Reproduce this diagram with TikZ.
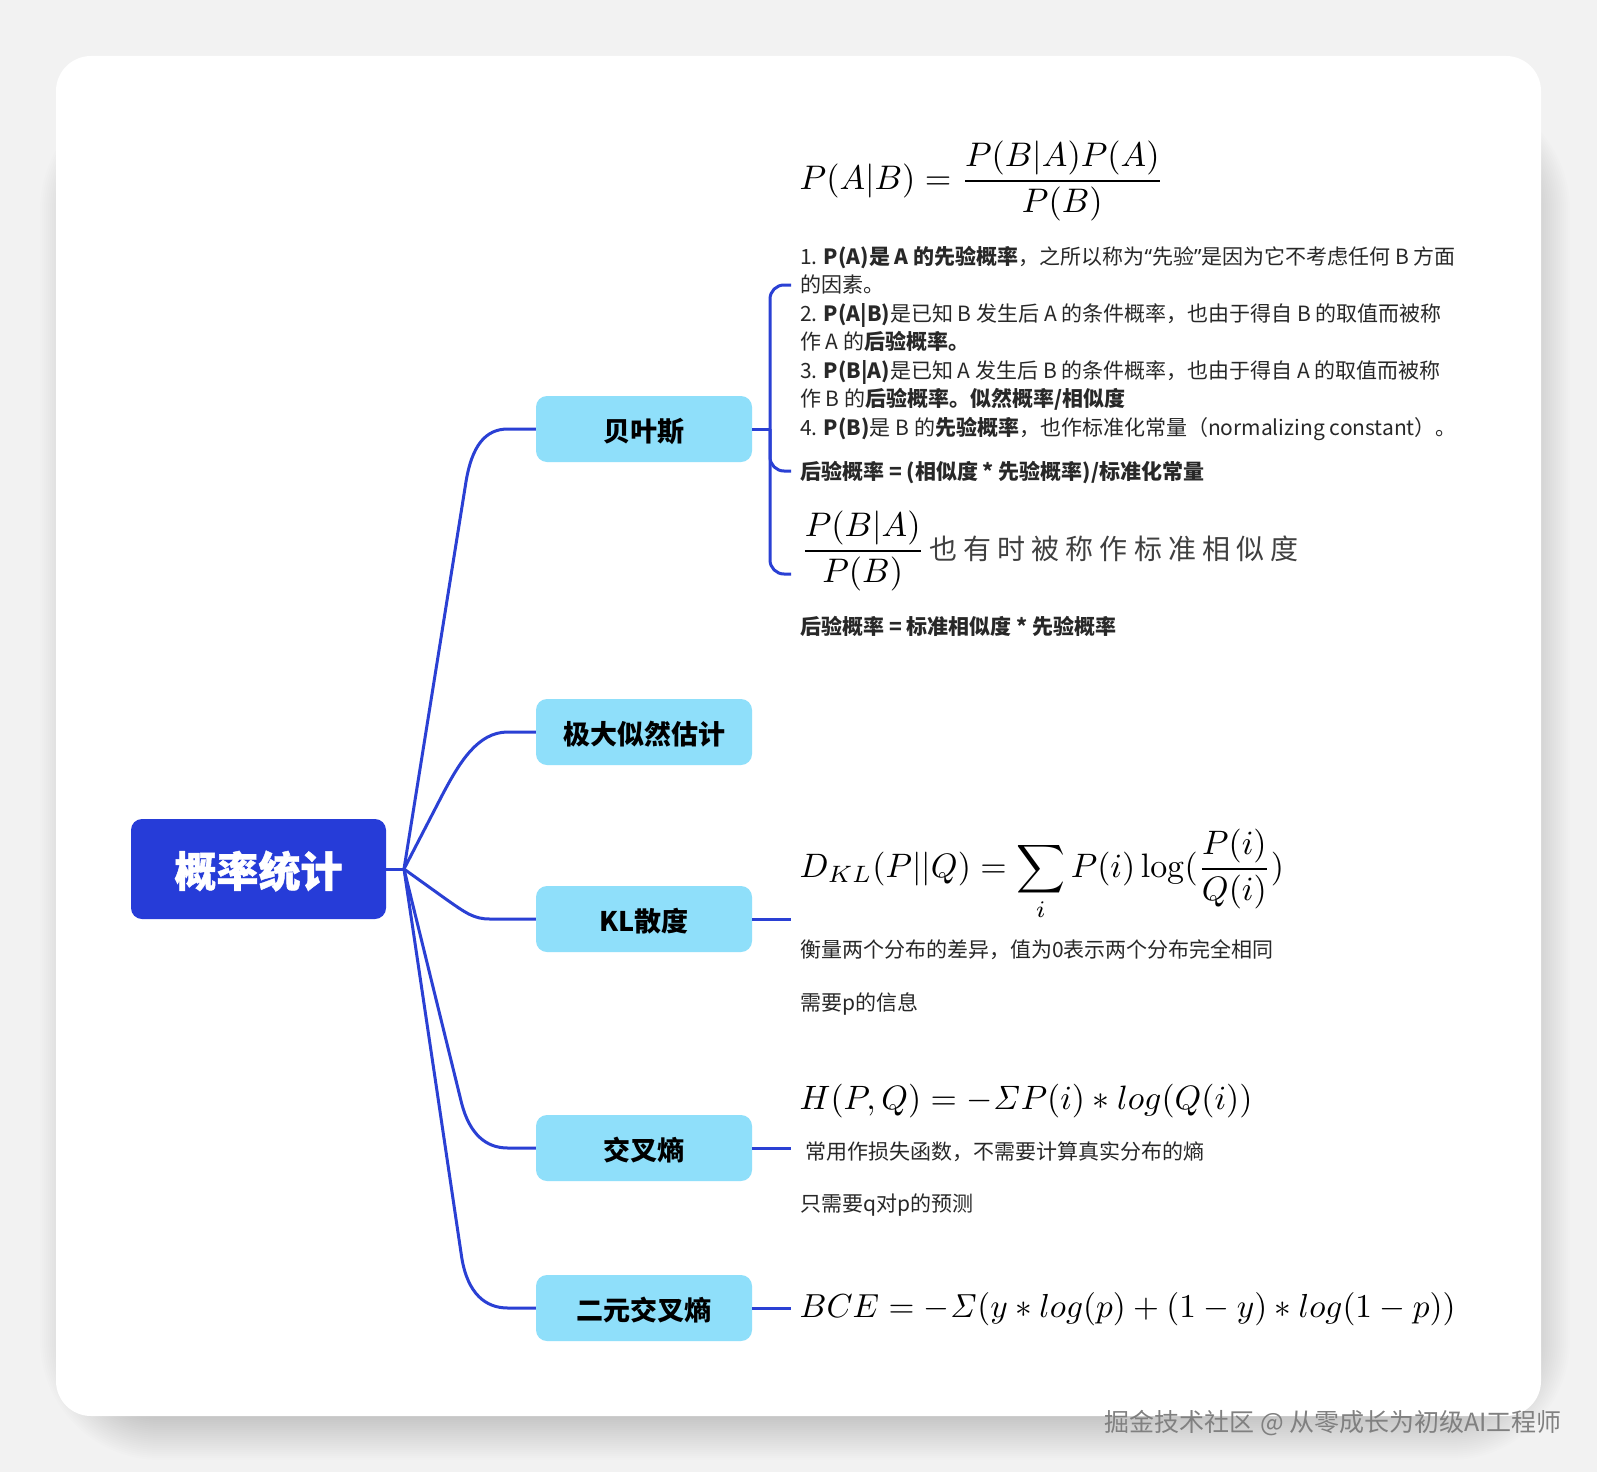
\documentclass[tikz,border=0pt]{standalone}
\usepackage[no-math]{fontspec}
\usepackage{amsmath}
\usepackage{tikz}
\usetikzlibrary{calc}
\setmainfont{Noto Sans CJK SC}
\newfontfamily\quotefont{Noto Sans}
\definecolor{pagecolor}{RGB}{242,242,242}
\definecolor{rootcolor}{RGB}{38,60,216}
\definecolor{subcolor}{RGB}{143,223,250}
\definecolor{linecolor}{RGB}{42,64,212}
\definecolor{notecolor}{RGB}{40,40,40}

\begin{document}
\begin{tikzpicture}[
    x=1pt,
    y=-1pt,
    root/.style={fill=rootcolor, text=white, minimum width=255pt, minimum height=100pt, rounded corners=11pt, text height=41pt, text depth=5pt, font=\fontsize{42}{50}\selectfont\bfseries\addfontfeature{FakeBold=1}},
    sub/.style={fill=subcolor, minimum width=216pt, minimum height=66pt, rounded corners=11pt, text height=29pt, text depth=4.4pt, font=\fontsize{27}{32}\selectfont\bfseries},
    branch/.style={draw=linecolor, line width=3pt},
    formula/.style={anchor=west, inner sep=0pt, scale=#1},
    note/.style={anchor=west, inner sep=0pt, align=left, text=notecolor, font=\fontsize{21}{28.5}\selectfont}
]
    % Page and card
    \useasboundingbox (0,0) rectangle (1597,1472);
    \fill[pagecolor] (0,0) rectangle (1597,1472);
    \foreach \i in {1,...,30}
        \fill[black, opacity=0.006, rounded corners={(60+2*\i)*1pt}] (100-2*\i,150-2*\i) rectangle (1510+2*\i,1400+2*\i);
    \fill[white, rounded corners=35pt] (56,56) rectangle (1541,1416);

    % Root and subjects
    \node[root] (prob) at (258.5,869) {概率统计};
    \node[sub] (bayes) at (644,429) {贝叶斯};
    \node[sub] (mle) at (644,732) {极大似然估计};
    \node[sub] (kl) at (644,919) {KL散度};
    \node[sub] (ce) at (644,1148) {交叉熵};
    \node[sub] (bce) at (644,1308) {二元交叉熵};

    % Formulas
    \node[formula=3.41] (fbayes) at (799,181) {$\displaystyle P(A|B)=\frac{P(B|A)P(A)}{P(B)}$};
    \node[formula=3.41] (flike) at (800,551) {$\displaystyle \frac{P(B|A)}{P(B)}$};
    \node[formula=3.39] (fkl) at (799,875) {$\displaystyle D_{KL}(P||Q)=\sum_{i}P(i)\log(\frac{P(i)}{Q(i)})$};
    \node[formula=3.38] (fce) at (799,1101) {$H(P,Q)=-\mathit{\Sigma} P(i)*log(Q(i))$};
    \node[formula=3.33] (fbce) at (799,1309) {$BCE=-\mathit{\Sigma}(y*log(p)+(1-y)*log(1-p))$};

    % Notes
    \node[note] (nbayes) at (800,343) {1. \textbf{P(A)是 A 的先验概率}，之所以称为{\quotefont “}先验{\quotefont ”}是因为它不考虑任何 B 方面\\
        的因素。\\
        2. \textbf{P(A|B)}是已知 B 发生后 A 的条件概率，也由于得自 B 的取值而被称\\
        作 A 的\textbf{后验概率。}\\
        3. \textbf{P(B|A)}是已知 A 发生后 B 的条件概率，也由于得自 A 的取值而被称\\
        作 B 的\textbf{后验概率。似然概率/相似度}\\
        4. \textbf{P(B)}是 B 的\textbf{先验概率}，也作标准化常量（normalizing constant）。};
    \node[note, font=\fontsize{21}{28.5}\selectfont\bfseries] (nrule) at (800,473) {后验概率 = (相似度 * 先验概率)/标准化常量};
    \node[note, text=black!75, font=\fontsize{28}{34}\selectfont\addfontfeature{LetterSpace=22}] (nlike) at (929,549) {也有时被称作标准相似度};
    \node[note, font=\fontsize{21}{28.5}\selectfont\bfseries] (nrule2) at (800,626) {后验概率 = 标准相似度 * 先验概率};
    \node[note] (nkl) at (800,950) {衡量两个分布的差异，值为0表示两个分布完全相同};
    \node[note] (nkl2) at (800,1004) {需要p的信息};
    \node[note] (nce) at (805,1152) {常用作损失函数，不需要计算真实分布的熵};
    \node[note] (nce2) at (800,1205) {只需要q对p的预测};

    % Watermark
    \node[anchor=east, inner sep=0pt, text=black!50, font=\fontsize{25}{30}\selectfont] (mark) at (1562,1423) {掘金技术社区 @ 从零成长为初级AI工程师};

    % Connections
    \coordinate (hub) at (404,869);
    \draw[branch] (prob.east) -- (hub);
    \draw[branch] (hub) -- ($(bayes.west)+(-70,54)$) .. controls ($(bayes.west)+(-64,16)$) and ($(bayes.west)+(-50,0)$) .. ($(bayes.west)+(-28,0)$) -- (bayes.west);
    \draw[branch] (hub) -- ($(mle.west)+(-93,62)$) .. controls ($(mle.west)+(-76,30)$) and ($(mle.west)+(-58,0)$) .. ($(mle.west)+(-28,0)$) -- (mle.west);
    \draw[branch] (hub) -- ($(kl.west)+(-90,-20)$) .. controls ($(kl.west)+(-70,-6)$) and ($(kl.west)+(-62,0)$) .. ($(kl.west)+(-46,0)$) -- (kl.west);
    \draw[branch] (hub) -- ($(ce.west)+(-74,-44)$) .. controls ($(ce.west)+(-66,-14)$) and ($(ce.west)+(-50,0)$) .. ($(ce.west)+(-28,0)$) -- (ce.west);
    \draw[branch] (hub) -- ($(bce.west)+(-74,-50)$) .. controls ($(bce.west)+(-68,-14)$) and ($(bce.west)+(-50,0)$) .. ($(bce.west)+(-28,0)$) -- (bce.west);

    \coordinate (bhub) at (770,429);
    \coordinate (btop) at (791,285);
    \coordinate (bmid) at (791,471);
    \coordinate (bend) at (791,574);
    \draw[branch] (bayes.east) -- (bhub);
    \draw[branch, rounded corners=14pt] (btop) -| (bhub);
    \draw[branch, rounded corners=14pt] (bmid) -| (bhub);
    \draw[branch, rounded corners=14pt] (bend) -| (bhub);
    \draw[branch] (kl.east) -- (791,919);
    \draw[branch] (ce.east) -- (791,1148);
    \draw[branch] (bce.east) -- (791,1308);
\end{tikzpicture}
\end{document}
